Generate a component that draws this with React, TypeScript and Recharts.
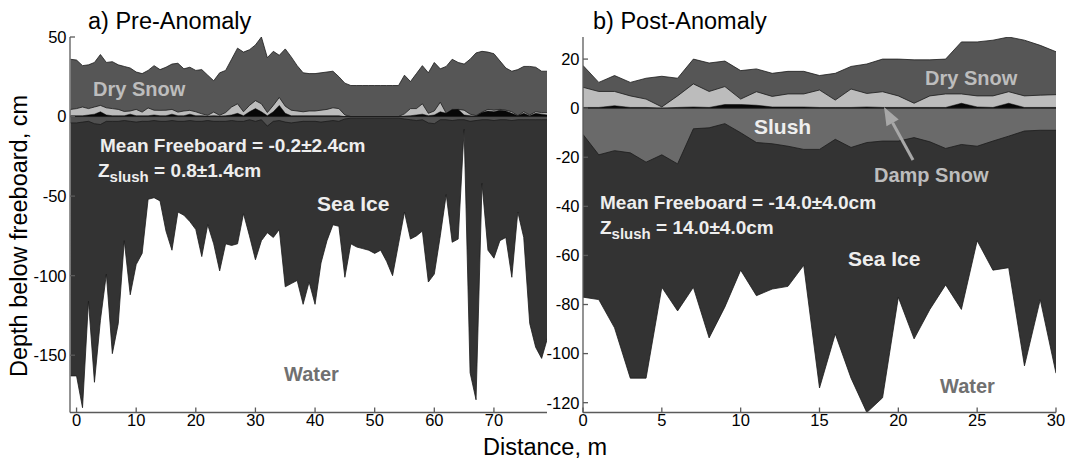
import React from 'react'
import { ComposedChart, Area, XAxis, YAxis, ReferenceLine } from 'recharts'

// a) Pre-Anomaly, distance in m
const distLeft = [-1, 0, 1, 2, 3, 4, 5, 6, 7, 8, 9, 10, 11, 12, 13, 14, 15, 16, 17, 18, 19, 20, 21, 22, 23, 24, 25, 26, 27, 28, 29, 30, 31, 32, 33, 34, 35, 36, 37, 38, 39, 40, 41, 42, 43, 44, 45, 46, 47, 48, 49, 50, 51, 52, 53, 54, 55, 56, 57, 58, 59, 60, 61, 62, 63, 64, 65, 66, 67, 68, 69, 70, 71, 72, 73, 74, 75, 76, 77, 78, 79]
const snowLeft = [36, 35.5, 32, 32.5, 34, 39, 34, 34.5, 32.5, 31.5, 30.5, 28, 27, 29, 32, 29.5, 31, 33, 33.5, 30, 31, 29, 29.5, 26, 22.5, 27.5, 29, 36, 43, 40.5, 42, 45, 50, 37, 41, 38.5, 42.5, 37.5, 32, 27.5, 27, 27, 27.5, 28, 28.5, 25, 21, 19.5, 19.5, 19.5, 19.5, 19.5, 19.5, 19.5, 19.5, 19.5, 26, 22, 27, 32, 27.5, 34, 30, 31.5, 36, 34, 33, 36, 40, 41, 40.5, 39.5, 35, 30.5, 28.5, 29.5, 31.5, 31.5, 31, 28.5, 28.5]
const dampLeft = [4.5, 5, 6, 5, 6, 7, 5.5, 5, 4.5, 3.2, 3.5, 4.5, 2.8, 5.4, 4, 3.9, 4, 4.5, 2.8, 3.5, 3.9, 3, 1.7, 0.8, 2.8, 0.8, 2.5, 6, 8, 3, 7, 10, 8, 2.5, 7, 12, 6.5, 4, 3.5, 3, 3.5, 3.5, 4, 4.5, 5.5, 5, 1, 0, 0, 0, 0, 0, 0, 0, 0, 0, 1.7, 5, 5, 8, 2, 3.5, 9, 2, 3.5, 4.5, 4, 1.5, 0.6, 2.8, 4.5, 4, 4.5, 4, 3, 0.6, 3, 1, 3, 2.5, 2.5]
const blackLeft = [0.5, 0.5, 0.5, 1, 1.5, 3, 1, 0.5, 0.5, 0.5, 1.5, 0.5, 0.5, 0.5, 1, 0.5, 0.5, 1.5, 0.5, 0.5, 1.5, 0.5, 0.5, 0.3, 0.5, 0.3, 0.5, 1, 2, 0.5, 3, 5, 3, 0.5, 3, 7, 2, 0.5, 0.5, 0.5, 0.5, 0.5, 0.5, 0.5, 0.5, 0.5, 0, 0, 0, 0, 0, 0, 0, 0, 0, 0, 0.3, 0.5, 1, 1.5, 0.5, 1, 3, 2, 4.5, 4.5, 1, 0.5, 0.3, 2.5, 3.5, 3, 4, 3.5, 2, 0.5, 2, 0.5, 2, 1.5, 1]
const slushLeft = [-4, -4, -3.5, -3, -4.5, -5, -3, -3, -3, -2.5, -3, -3.5, -3, -3, -2.5, -3, -3, -2.5, -3, -3, -2.5, -3, -3, -2.5, -3, -3, -3, -2.5, -3, -3, -2, -3, -2, -6, -3, -2.5, -3.5, -4, -3.5, -3, -3, -3, -3.5, -3, -2.5, -3, -1.5, -1, -1, -1, -1, -1, -1, -1, -1, -1, -1.5, -2, -2.5, -2, -4, -4.5, -2, -2, -2.5, -2, -2, -3, -2.5, -2, -2, -2.5, -2, -2, -2.5, -2, -2, -2, -2, -2, -2]
const iceLeft = [-163, -163, -183, -116, -167, -128, -99, -149, -130, -78, -112, -93, -86, -52, -51, -53, -72, -84, -60, -62, -66, -71, -88, -68, -80, -97, -80, -81, -80, -61, -75, -90, -78, -73, -76, -71, -107, -105, -103, -118, -104, -118, -92, -78, -68, -69, -101, -80, -82, -83, -84, -86, -84, -91, -100, -80, -60, -77, -75, -72, -104, -99, -75, -49, -79, -77, -8, -161, -178, -42, -84, -89, -78, -76, -101, -60, -76, -130, -145, -152, -139]

// b) Post-Anomaly
const distRight = [0, 1, 2, 3, 4, 5, 6, 7, 8, 9, 10, 11, 12, 13, 14, 15, 16, 17, 18, 19, 20, 21, 22, 23, 24, 25, 26, 27, 28, 29, 30]
const snowRight = [17.4, 10.5, 13.3, 10.5, 12.2, 13, 12.2, 20, 18.4, 19.2, 15.3, 16, 14.2, 15, 15, 13.3, 14.2, 17, 18, 20, 20, 19.7, 19.7, 20, 27, 27, 27.7, 29, 27.7, 25.6, 23]
const dampRight = [8.5, 6.8, 6.8, 5, 3.7, 0.5, 5, 9.9, 6.8, 8.8, 3.7, 6.7, 4.8, 5.8, 5.8, 7.4, 3.3, 7.8, 6, 6.7, 5, 2, 5, 5.8, 5.8, 5, 5, 6.7, 5, 5.3, 5.5]
const blackRight = [0.3, 0.3, 1, 0.3, 0.3, 0, 0.3, 0.5, 0.3, 1.5, 1.5, 1.2, 0.5, 0.5, 0.5, 0.3, 0.3, 0.3, 0.5, 0.3, 0.3, 0.3, 0.3, 0.3, 2, 0.5, 0.3, 2, 0.3, 0.3, 0.3]
const slushRight = [-10.7, -19, -17.3, -18.2, -22, -19, -22.7, -8.4, -8, -6.3, -10, -14, -14.5, -15.5, -16.8, -16.8, -12.7, -16, -14, -13.4, -13.4, -12, -13.7, -16.4, -14.8, -15.5, -13.4, -11.4, -9.3, -9, -9]
const iceRight = [-77, -78, -89.5, -110, -110, -73, -82.6, -73, -93.6, -81, -66, -76.4, -73.7, -72.6, -64, -114, -92, -110, -124, -118, -77, -94, -82, -72, -82, -54, -66, -65, -105, -78, -108]

const xTicksLeft = [0, 10, 20, 30, 40, 50, 60, 70]
const yTicksLeft = [-150, -100, -50, 0, 50]
const xTicksRight = [0, 5, 10, 15, 20, 25, 30]
const yTicksRight = [-120, -100, -80, -60, -40, -20, 0, 20]

const FONT = '"Liberation Sans", Arial, sans-serif'
const DRY = '#565656'
const DAMP = '#bcbcbc'
const BLACK = '#070707'
const ICE = '#333333'
const EDGE = '#1c1c1c'
const AXIS = '#5a5a5a'

const leftData = distLeft.map((d, i) => ({
  d, snow: snowLeft[i], damp: dampLeft[i], black: blackLeft[i], slush: slushLeft[i], ice: iceLeft[i],
}))
const rightData = distRight.map((d, i) => ({
  d, snow: snowRight[i], damp: dampRight[i], black: blackRight[i], slush: slushRight[i], ice: iceRight[i],
}))

type PanelProps = {
  data: any[]
  width: number
  yAxisWidth: number
  marginRight: number
  xDomain: [number, number]
  yDomain: [number, number]
  xTicks: number[]
  yTicks: number[]
  slushColor: string
}

function Panel({ data, width, yAxisWidth, marginRight, xDomain, yDomain, xTicks, yTicks, slushColor }: PanelProps) {
  const tickStyle = { fill: '#000', fontSize: 16.5, fontFamily: FONT }
  return (
    <ComposedChart width={width} height={459} data={data} margin={{ top: 37, right: marginRight, bottom: 0, left: 0 }}>
      <XAxis xAxisId="b" dataKey="d" type="number" domain={xDomain} ticks={xTicks} allowDataOverflow
        height={46.5} tickSize={-5} tickMargin={7} stroke={AXIS} strokeWidth={1.3} tick={tickStyle} />
      <XAxis xAxisId="t" orientation="top" dataKey="d" type="number" domain={xDomain} ticks={xTicks} allowDataOverflow
        height={0} tickSize={-5} stroke={AXIS} strokeWidth={1.3} tick={false} />
      <YAxis yAxisId="l" type="number" domain={yDomain} ticks={yTicks} allowDataOverflow
        width={yAxisWidth} tickSize={-5} tickMargin={8.5} stroke={AXIS} strokeWidth={1.3} tick={tickStyle} />
      <YAxis yAxisId="r" orientation="right" type="number" domain={yDomain} ticks={yTicks} allowDataOverflow
        width={0} tickSize={-5} stroke={AXIS} strokeWidth={1.3} tick={false} />
      <Area xAxisId="b" yAxisId="l" type="linear" dataKey="snow" baseValue={0} fill={DRY} fillOpacity={1} stroke={EDGE} strokeWidth={0.8} isAnimationActive={false} />
      <Area xAxisId="b" yAxisId="l" type="linear" dataKey="damp" baseValue={0} fill={DAMP} fillOpacity={1} stroke={EDGE} strokeWidth={0.8} isAnimationActive={false} />
      <Area xAxisId="b" yAxisId="l" type="linear" dataKey="black" baseValue={0} fill={BLACK} fillOpacity={1} stroke={BLACK} strokeWidth={0.5} isAnimationActive={false} />
      <Area xAxisId="b" yAxisId="l" type="linear" dataKey="ice" baseValue={0} fill={ICE} fillOpacity={1} stroke={EDGE} strokeWidth={0.8} isAnimationActive={false} />
      <Area xAxisId="b" yAxisId="l" type="linear" dataKey="slush" baseValue={0} fill={slushColor} fillOpacity={1} stroke={EDGE} strokeWidth={0.8} isAnimationActive={false} />
      <ReferenceLine xAxisId="b" yAxisId="l" y={0} stroke={EDGE} strokeWidth={1} />
    </ComposedChart>
  )
}

export default function App() {
  const bold = { fontFamily: FONT, fontWeight: 700 }
  return (
    <div style={{ position: 'absolute', left: 0, top: 0, width: 1066, height: 459, background: '#fff', overflow: 'hidden' }}>
      <div style={{ position: 'absolute', left: 0, top: 0 }}>
        <Panel data={leftData} width={560} yAxisWidth={70} marginRight={13} xDomain={[-1.1, 78.9]} yDomain={[-186, 50]}
          xTicks={xTicksLeft} yTicks={yTicksLeft} slushColor="#505050" />
      </div>
      <div style={{ position: 'absolute', left: 530, top: 0 }}>
        <Panel data={rightData} width={536} yAxisWidth={53} marginRight={10} xDomain={[0, 30]} yDomain={[-124, 29]}
          xTicks={xTicksRight} yTicks={yTicksRight} slushColor="#6a6a6a" />
      </div>
      <svg width={1066} height={459} style={{ position: 'absolute', left: 0, top: 0, pointerEvents: 'none' }}>
        <text x={88} y={29} fontSize={23.5} fontFamily={FONT} fill="#000">a) Pre-Anomaly</text>
        <text x={593} y={29} fontSize={23.5} fontFamily={FONT} fill="#000">b) Post-Anomaly</text>
        <text x={19} y={236} transform="rotate(-90 19 236)" textAnchor="middle" dominantBaseline="central" fontSize={23.5} fontFamily={FONT} fill="#000">Depth below freeboard, cm</text>
        <text x={545} y={455} textAnchor="middle" fontSize={23.5} fontFamily={FONT} fill="#000">Distance, m</text>

        <text x={93} y={96} fontSize={20} {...bold} fill="#bdbdbd">Dry Snow</text>
        <text x={100} y={152} fontSize={19} {...bold} fill="#eeeeee">Mean Freeboard = -0.2±2.4cm</text>
        <text x={98} y={177} fontSize={19} {...bold} fill="#eeeeee">Z<tspan fontSize={15} dy={5}>slush</tspan><tspan dy={-5}> = 0.8±1.4cm</tspan></text>
        <text x={317} y={211} fontSize={21} {...bold} fill="#eeeeee">Sea Ice</text>
        <text x={284} y={381} fontSize={20} {...bold} fill="#707070">Water</text>

        <text x={925} y={85} fontSize={20} {...bold} fill="#bdbdbd">Dry Snow</text>
        <text x={754} y={134} fontSize={21} {...bold} fill="#eeeeee">Slush</text>
        <line x1={913} y1={160} x2={892.6} y2={122.8} stroke="#a8a8a8" strokeWidth={3} />
        <polygon points="884,107 898.7,119.4 886.5,126.2" fill="#a8a8a8" />
        <text x={874} y={182} fontSize={20} {...bold} fill="#bdbdbd">Damp Snow</text>
        <text x={600} y={209} fontSize={19} {...bold} fill="#eeeeee">Mean Freeboard = -14.0±4.0cm</text>
        <text x={600} y={234} fontSize={19} {...bold} fill="#eeeeee">Z<tspan fontSize={15} dy={5}>slush</tspan><tspan dy={-5}> = 14.0±4.0cm</tspan></text>
        <text x={848} y={266} fontSize={21} {...bold} fill="#eeeeee">Sea Ice</text>
        <text x={940} y={393} fontSize={20} {...bold} fill="#707070">Water</text>
      </svg>
    </div>
  )
}
